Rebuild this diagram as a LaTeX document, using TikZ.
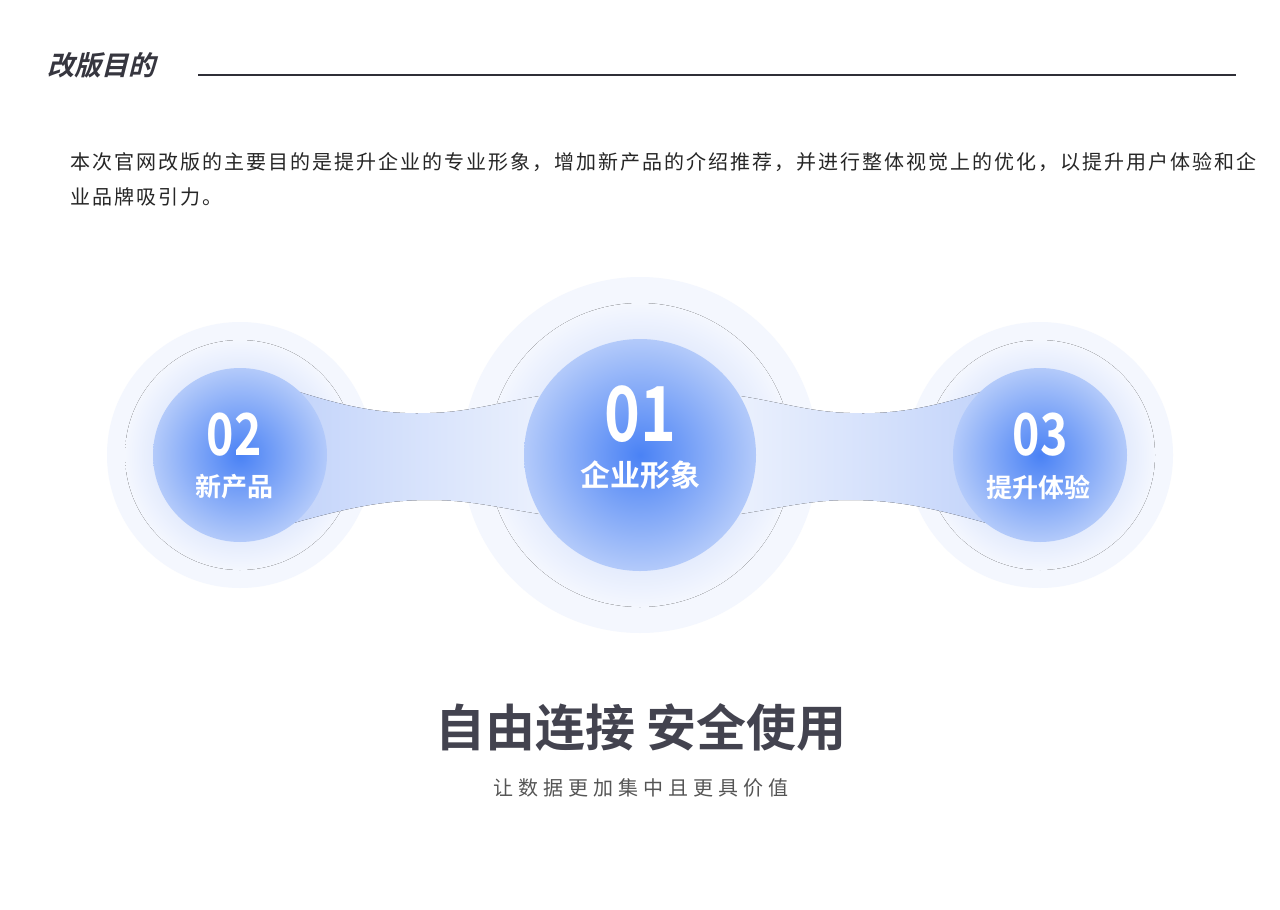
\documentclass[tikz,border=0pt]{standalone}
\usepackage{fontspec}
\setmainfont{Noto Sans CJK SC}
\newfontfamily\cjk{Noto Sans CJK SC}
\newfontfamily\cjkb{Noto Sans CJK SC Bold}[FakeSlant=0.25]
\newfontfamily\cjkbb{Noto Sans CJK SC Bold}
\newfontfamily\cjksp{Noto Sans CJK SC}[LetterSpace=10]
\newfontfamily\cjkspw{Noto Sans CJK SC}[LetterSpace=25]
\newfontfamily\numf{Noto Sans CJK SC Bold}[FakeStretch=0.8]
\definecolor{ballc}{HTML}{4A82F5}
\definecolor{balle}{HTML}{B3CAFA}
\definecolor{haloA}{HTML}{E2EAFD}
\definecolor{haloB}{HTML}{F4F7FE}
\definecolor{bandA}{HTML}{C3D4FA}
\definecolor{bandB}{HTML}{EAF0FD}
\definecolor{darktxt}{HTML}{43434F}
\definecolor{greytxt}{HTML}{555555}
\pgfdeclareradialshading{ballshade}{\pgfpoint{0bp}{0bp}}{color(0bp)=(ballc); color(25bp)=(balle); color(50bp)=(balle)}
\pgfdeclareradialshading{haloshade}{\pgfpoint{0bp}{0bp}}{color(0bp)=(haloA); color(18bp)=(haloA); color(25bp)=(haloB); color(50bp)=(haloB)}
\tikzset{
  ball/.style={circle, shading=ballshade, inner sep=0pt},
  halo/.style={circle, fill=haloB, inner sep=0pt},
  halo2/.style={circle, fill=haloA, inner sep=0pt},
  numtxt/.style={text=white, font=\numf, align=center},
}
\begin{document}
\begin{tikzpicture}[x=1pt,y=-1pt]
\useasboundingbox[fill=white] (0,0) rectangle (1280,910);
% heading
\node[anchor=west, font=\cjkb\fontsize{27}{27}\selectfont, text=darktxt!80!black] (title) at (44,65) {改版目的};
\coordinate (l1) at (198,75); \coordinate (l2) at (1236,75);
\draw[line width=1.3pt, darktxt!70!black] (l1) -- (l2);
\node[anchor=west, inner sep=0pt, font=\cjksp\fontsize{20}{20}\selectfont, text=black!85] (p1) at (70,162) {本次官网改版的主要目的是提升企业的专业形象，增加新产品的介绍推荐，并进行整体视觉上的优化，以提升用户体验和企};
\node[anchor=west, inner sep=0pt, font=\cjksp\fontsize{20}{20}\selectfont, text=black!85] (p2) at (70,197) {业品牌吸引力。};
% halos
\node[halo, minimum size=266pt] (hl) at (240,455) {};
\node[halo, minimum size=266pt] (hr) at (1040,455) {};
\node[halo, minimum size=356pt] (hc) at (640,455) {};
\fill[shading=haloshade] (240,455) circle (115);
\fill[shading=haloshade] (1040,455) circle (115);
\fill[shading=haloshade] (640,455) circle (152);
% bands
\fill[left color=bandA, right color=bandB]
  (293,390) .. controls (340,405) and (380,415) .. (430,413)
  .. controls (470,412) and (500,402) .. (540,396)
  -- (540,514) .. controls (500,508) and (470,500) .. (430,500)
  .. controls (380,500) and (340,510) .. (290,524) -- cycle;
\fill[right color=bandA, left color=bandB]
  (987,390) .. controls (940,405) and (900,415) .. (850,413)
  .. controls (810,412) and (780,402) .. (740,396)
  -- (740,514) .. controls (780,508) and (810,500) .. (850,500)
  .. controls (900,500) and (940,510) .. (990,524) -- cycle;
% balls
\node[ball, minimum size=174pt] (bl) at (240,455) {};
\node[ball, minimum size=174pt] (br) at (1040,455) {};
\node[ball, minimum size=232pt] (bc) at (640,455) {};
% texts
\node[numtxt, font=\numf\fontsize{58}{58}\selectfont] (n2) at (234,435) {02};
\node[numtxt, font=\cjkbb\fontsize{26}{26}\selectfont] (t2) at (234,487) {新产品};
\node[numtxt, font=\numf\fontsize{76}{76}\selectfont] (n1) at (640,414) {01};
\node[numtxt, font=\cjkbb\fontsize{30}{30}\selectfont] (t1) at (640,475) {企业形象};
\node[numtxt, font=\numf\fontsize{58}{58}\selectfont] (n3) at (1040,435) {03};
\node[numtxt, font=\cjkbb\fontsize{26}{26}\selectfont] (t3) at (1038,487) {提升体验};
% bottom
\node[font=\cjkbb\fontsize{50}{50}\selectfont, text=darktxt] (big) at (641,727) {自由连接 安全使用};
\node[font=\cjkspw\fontsize{20}{20}\selectfont, text=greytxt] (sub) at (641,788) {让数据更加集中且更具价值};
\end{tikzpicture}
\end{document}
